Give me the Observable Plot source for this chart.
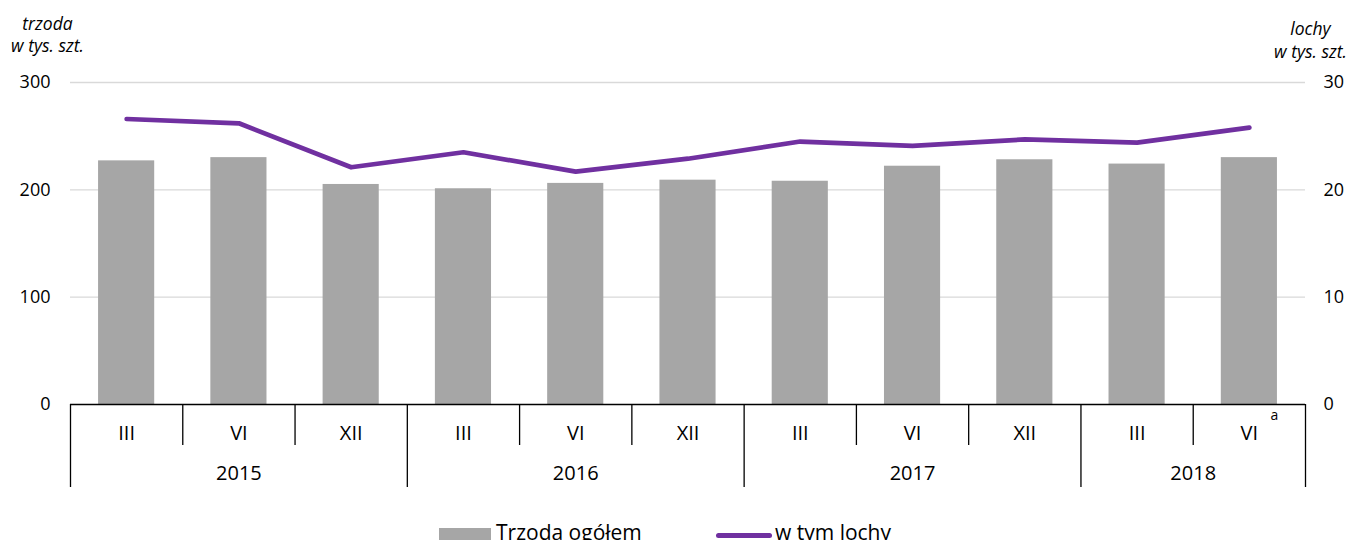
<!DOCTYPE html>
<html><head><meta charset="utf-8">
<script src="https://cdn.jsdelivr.net/npm/d3@7"></script>
<script src="https://cdn.jsdelivr.net/npm/@observablehq/plot@0.6"></script>
<style>
html,body{margin:0;padding:0;background:#fff;}
#wrap{position:relative;width:1352px;height:540px;overflow:hidden;}
#wrap svg [aria-label="x-axis tick label"] text, #wrap svg text[aria-label="footnote"]{font-stretch:88%;}
.leg{position:absolute;display:flex;align-items:center;font-family:"Open Sans",sans-serif;font-stretch:90%;font-size:21px;color:#000;white-space:nowrap;}
.sw{display:inline-block;}
</style></head><body><div id="wrap"></div>
<script>
const years = ["2015","2015","2015","2016","2016","2016","2017","2017","2017","2018","2018"];
const months = ["III","VI","XII","III","VI","XII","III","VI","XII","III","VI"];
const trzoda = [227, 230, 205, 201, 206, 209, 208, 222, 228, 224, 230];
const lochy = [26.6, 26.2, 22.1, 23.5, 21.7, 22.9, 24.5, 24.1, 24.7, 24.4, 25.8];
const leftTicks = [0, 100, 200, 300];
const rightTicks = [0, 10, 20, 30];
const footnotes = [{index: 10, text: "a"}];
const leftTitle = "trzoda\nw tys. szt.";
const rightTitle = "lochy\nw tys. szt.";
const seriesNames = ["Trzoda ogółem", "w tym lochy"];
const colors = {bar: "#a6a6a6", line: "#7030a0"};

const ratio = leftTicks[leftTicks.length-1] / rightTicks[rightTicks.length-1];
const data = months.map((m, i) => ({i, month: m, year: years[i], trzoda: trzoda[i], lochy: lochy[i]}));
const groups = [];
years.forEach((y, i) => {
  const g = groups[groups.length-1];
  if (g && g.year === y) g.count++; else groups.push({year: y, start: i, count: 1});
});
const yearBounds = [...groups.map(g => g.start), years.length];
const monthBounds = d3.range(1, years.length).filter(b => !yearBounds.includes(b));
const yearCenters = groups.map(g => g.start + g.count / 2);

const font = '"Open Sans", sans-serif';

const chart = Plot.plot({
  width: 1352, height: 505,
  marginLeft: 70, marginRight: 47, marginTop: 82, marginBottom: 101,
  style: {fontFamily: font, fontSize: "18px", color: "#000", background: "#fff", overflow: "visible"},
  x: {type: "linear", domain: [0, months.length], axis: null},
  y: {domain: [0, leftTicks[leftTicks.length-1]], axis: null},
  marks: [
    Plot.gridY(leftTicks.filter(t => t > 0), {stroke: "#d9d9d9", strokeOpacity: 1, strokeWidth: 1.3}),
    Plot.rectY(data, {x1: d => d.i + 0.25, x2: d => d.i + 0.75, y: "trzoda", fill: colors.bar}),
    Plot.ruleY([0], {stroke: "#000", strokeWidth: 1.5}),
    Plot.lineY(data, {x: d => d.i + 0.5, y: d => d.lochy * ratio, stroke: colors.line, strokeWidth: 4.7, strokeLinecap: "round", strokeLinejoin: "round"}),
    Plot.axisY(leftTicks, {anchor: "left", tickSize: 0, tickPadding: 20, label: null, fontSize: 18}),
    Plot.axisY(rightTicks.map(v => v * ratio), {anchor: "right", tickSize: 0, tickPadding: 18, tickFormat: d => d / ratio, label: null, fontSize: 18}),
    Plot.axisX(monthBounds, {anchor: "bottom", tickSize: 41, tickFormat: () => "", stroke: "#000", strokeWidth: 1.3, label: null}),
    Plot.axisX(yearBounds, {anchor: "bottom", tickSize: 83, tickFormat: () => "", stroke: "#000", strokeWidth: 1.3, label: null}),
    Plot.axisX(data.map(d => d.i + 0.5), {anchor: "bottom", tickSize: 0, tickPadding: 21, tickFormat: v => months[Math.floor(v)], fontSize: 20, label: null}),
    Plot.axisX(yearCenters, {anchor: "bottom", tickSize: 0, tickPadding: 61, tickFormat: v => groups[yearCenters.indexOf(v)].year, fontSize: 20, label: null}),
    Plot.text(footnotes, {x: d => d.index + 0.5, frameAnchor: "bottom", text: "text", dx: 25, dy: 15, fontSize: 14, ariaLabel: "footnote"}),
    Plot.text([leftTitle], {text: d => d, frameAnchor: "top-left", dx: -23, dy: -67.5, fontStyle: "italic", fontSize: 17.5, lineHeight: 1.24, textAnchor: "middle"}),
    Plot.text([rightTitle], {text: d => d, frameAnchor: "top-right", dx: 5, dy: -64.5, fontStyle: "italic", fontSize: 17.5, lineHeight: 1.33, textAnchor: "middle"})
  ]
});
const wrap = document.getElementById("wrap");
wrap.appendChild(chart);

// legend
const leg1 = document.createElement("div");
leg1.className = "leg"; leg1.style.left = "439px"; leg1.style.top = "518px";
leg1.innerHTML = `<span class="sw" style="width:52px;height:14px;margin-top:6px;background:${colors.bar};margin-right:5px"></span><span>${seriesNames[0]}</span>`;
const leg2 = document.createElement("div");
leg2.className = "leg"; leg2.style.left = "716px"; leg2.style.top = "518px";
leg2.innerHTML = `<span class="sw" style="width:56px;height:5px;margin-top:6px;border-radius:3px;background:${colors.line};margin-right:3px"></span><span>${seriesNames[1]}</span>`;
wrap.appendChild(leg1); wrap.appendChild(leg2);
</script></body></html>
